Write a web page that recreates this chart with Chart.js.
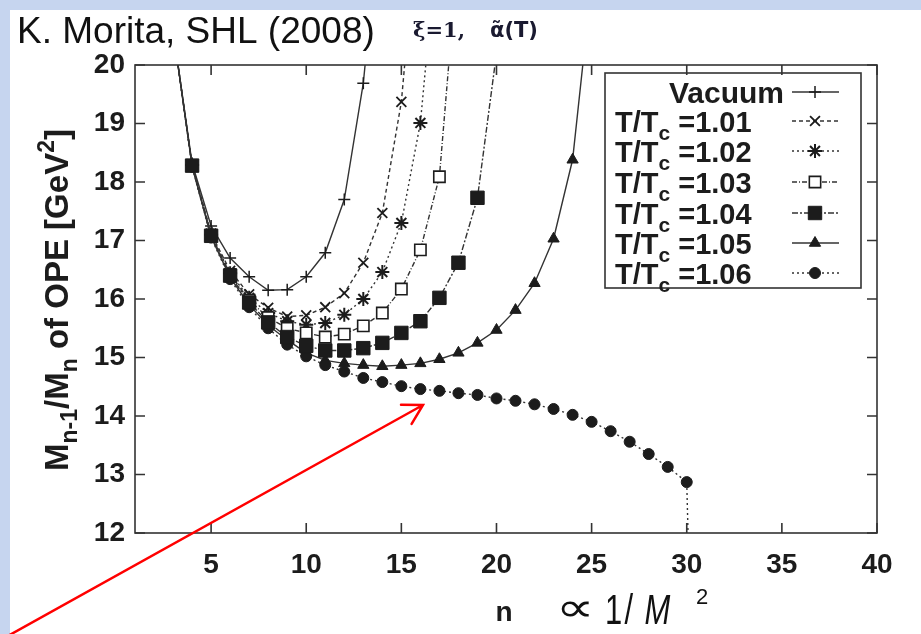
<!DOCTYPE html>
<html>
<head>
<meta charset="utf-8">
<script src="https://cdn.jsdelivr.net/npm/chart.js@4.4.1/dist/chart.umd.min.js"></script>
<style>
  html, body { margin: 0; padding: 0; background: #c6d5ef; }
  #wrap { position: relative; width: 921px; height: 634px; overflow: hidden; }
  #paper { position: absolute; left: 10px; top: 10px; right: 0; bottom: 0; background: #fff; }
  #box { position: absolute; left: 0; top: 0; width: 921px; height: 634px; }
</style>
</head>
<body>
<div id="wrap">
  <div id="paper"></div>
  <div id="box"><canvas id="chart"></canvas></div>
</div>
<script>
// n values (every series starts at n = 3)
const nValues = [3,4,5,6,7,8,9,10,11,12,13,14,15,16,17,18,19,20,21,22,23,24,25,26,27,28,29,30,31];

// M_{n-1}/M_n of OPE [GeV^2]
const vacuum = [20.6,18.32,17.25,16.7,16.38,16.15,16.16,16.38,16.79,17.7,19.69,23.0];
const t101 = [20.6,18.3,17.12,16.48,16.08,15.85,15.7,15.72,15.86,16.1,16.62,17.47,19.37,23.0];
const t102 = [20.6,18.29,17.1,16.44,16.02,15.76,15.62,15.56,15.59,15.73,16.0,16.46,17.3,19.01,22.5];
const t103 = [20.6,18.28,17.09,16.42,15.98,15.68,15.5,15.42,15.35,15.4,15.54,15.76,16.17,16.84,18.09,22.0];
const t104 = [20.6,18.28,17.08,16.4,15.94,15.6,15.35,15.2,15.12,15.12,15.16,15.25,15.42,15.62,16.02,16.62,17.73,20.2];
const t105 = [20.6,18.27,17.06,16.37,15.9,15.55,15.3,15.08,14.95,14.9,14.87,14.85,14.87,14.9,14.97,15.08,15.25,15.47,15.81,16.27,17.03,18.38,21.4];
const t106 = [20.6,18.26,17.05,16.34,15.86,15.5,15.22,15.02,14.87,14.76,14.65,14.58,14.51,14.46,14.43,14.39,14.36,14.3,14.26,14.2,14.12,14.02,13.9,13.74,13.56,13.35,13.13,12.87,0];

const xTicks = [5,10,15,20,25,30,35,40];
const yTicks = [12,13,14,15,16,17,18,19,20];
const tempLabels = ['1.01','1.02','1.03','1.04','1.05','1.06'];

const toPts = vals => vals.map((v, i) => ({ x: nValues[i], y: v }));
const ink = '#1c1c1c';
const lineGray = '#333';
const sans = '"Liberation Sans", Arial, sans-serif';

function series(label, vals, style, radius, fill, dash, bw, pbw, order) {
  return {
    label: label, data: toPts(vals), order: order,
    borderColor: lineGray, borderWidth: bw, borderDash: dash,
    pointStyle: style, pointRadius: radius, pointHoverRadius: radius,
    pointBorderWidth: pbw, pointBorderColor: ink, pointBackgroundColor: fill,
    tension: 0, fill: false
  };
}

const datasets = [
  series('Vacuum', vacuum, 'cross', 6, ink, [], 1.4, 1.5, 6),
  series('T/Tc=1.01', t101, 'crossRot', 7, ink, [4,3], 1.4, 1.8, 5),
  series('T/Tc=1.02', t102, 'star', 7, ink, [2,3], 1.4, 2, 4),
  series('T/Tc=1.03', t103, 'rect', 8, '#fff', [5,2,1,2], 1.4, 1.6, 3),
  series('T/Tc=1.04', t104, 'rect', 9.5, ink, [6,2,2,2], 1.4, 1, 0),
  series('T/Tc=1.05', t105, 'triangle', 6.5, ink, [], 1.4, 1, 2),
  series('T/Tc=1.06', t106, 'circle', 5.5, ink, [2,3], 1.4, 1, 1)
];

function richText(ctx, parts, x, y, align) {
  let w = 0;
  parts.forEach(p => { ctx.font = p.font; w += ctx.measureText(p.t).width; });
  let cx = align === 'center' ? x - w / 2 : (align === 'right' ? x - w : x);
  parts.forEach(p => {
    ctx.font = p.font;
    ctx.fillText(p.t, cx, y + (p.dy || 0));
    cx += ctx.measureText(p.t).width;
  });
  return w;
}

// gnuplot style frame with inward ticks on all four sides
const framePlugin = {
  id: 'frame',
  afterDatasetsDraw(chart) {
    const { ctx, chartArea: a, scales: { x, y } } = chart;
    ctx.save();
    ctx.strokeStyle = '#333';
    ctx.lineWidth = 1.6;
    ctx.strokeRect(a.left, a.top, a.right - a.left, a.bottom - a.top);
    ctx.beginPath();
    x.ticks.forEach(t => {
      const px = x.getPixelForValue(t.value);
      ctx.moveTo(px, a.bottom); ctx.lineTo(px, a.bottom - 10);
      ctx.moveTo(px, a.top); ctx.lineTo(px, a.top + 10);
    });
    y.ticks.forEach(t => {
      const py = y.getPixelForValue(t.value);
      ctx.moveTo(a.left, py); ctx.lineTo(a.left + 10, py);
      ctx.moveTo(a.right, py); ctx.lineTo(a.right - 10, py);
    });
    ctx.stroke();
    ctx.restore();
  }
};

const legendPlugin = {
  id: 'gpLegend',
  afterDraw(chart) {
    const ctx = chart.ctx;
    const rowY = [92, 121, 151, 182, 213, 243, 273];
    const big = 'bold 29px ' + sans;
    ctx.save();
    ctx.strokeStyle = '#333';
    ctx.lineWidth = 1.6;
    ctx.strokeRect(605, 73, 256, 215);
    ctx.textBaseline = 'alphabetic';
    chart.data.datasets.forEach((ds, i) => {
      const y = rowY[i];
      ctx.fillStyle = ink;
      if (i === 0) {
        ctx.font = 'bold 30px ' + sans;
        ctx.textAlign = 'right';
        ctx.fillText('Vacuum', 784, y + 11);
        ctx.textAlign = 'left';
      } else {
        richText(ctx, [
          { t: 'T/T', font: big },
          { t: 'c', font: 'bold 21px ' + sans, dy: 8 },
          { t: ' =' + tempLabels[i - 1], font: big }
        ], 615, y + 11, 'left');
      }
      ctx.strokeStyle = lineGray;
      ctx.lineWidth = 1.4;
      ctx.setLineDash(ds.borderDash || []);
      ctx.beginPath(); ctx.moveTo(792, y); ctx.lineTo(839, y); ctx.stroke();
      ctx.setLineDash([]);
      ctx.fillStyle = ds.pointBackgroundColor;
      ctx.strokeStyle = ds.pointBorderColor;
      ctx.lineWidth = ds.pointBorderWidth;
      Chart.helpers.drawPoint(ctx, { pointStyle: ds.pointStyle, rotation: 0, radius: ds.pointRadius, borderWidth: ds.pointBorderWidth }, 815, y);
    });
    ctx.restore();
  }
};

const textPlugin = {
  id: 'texts',
  afterDraw(chart) {
    const ctx = chart.ctx;
    ctx.save();
    ctx.fillStyle = '#111';
    ctx.textAlign = 'left';
    ctx.textBaseline = 'alphabetic';
    ctx.font = '37px ' + sans;
    ctx.fillText('K. Morita, SHL (2008)', 17, 43);
    ctx.fillStyle = '#1a1a30';
    ctx.font = 'bold 21px "DejaVu Serif", serif';
    ctx.fillText('\u03BE=1,', 413, 37);
    ctx.font = 'bold 21px "DejaVu Sans", sans-serif';
    ctx.fillText('\u03B1\u0303(T)', 490, 37);

    // y axis title
    ctx.fillStyle = ink;
    ctx.save();
    ctx.translate(68, 300);
    ctx.rotate(-Math.PI / 2);
    const big = 'bold 33px ' + sans;
    const small = 'bold 23px ' + sans;
    richText(ctx, [
      { t: 'M', font: big },
      { t: 'n-1', font: small, dy: 9 },
      { t: '/M', font: big },
      { t: 'n', font: small, dy: 9 },
      { t: ' of OPE [GeV', font: big },
      { t: '2', font: small, dy: -14 },
      { t: ']', font: big }
    ], 0, 0, 'center');
    ctx.restore();

    // x axis title
    ctx.textAlign = 'center';
    ctx.font = 'bold 28px ' + sans;
    ctx.fillText('n', 504, 621);
    ctx.textAlign = 'left';
    ctx.fillStyle = '#111';
    ctx.save();
    ctx.translate(556, 621);
    ctx.scale(1.35, 1);
    ctx.font = '40px "DejaVu Sans", sans-serif';
    ctx.fillText('\u221D', 0, 0);
    ctx.restore();
    ctx.save();
    ctx.translate(605, 624);
    ctx.scale(0.72, 1);
    ctx.font = '43px ' + sans;
    ctx.fillText('1', 0, 0);
    ctx.fillText('/', 27, 0);
    ctx.font = 'italic 43px ' + sans;
    ctx.fillText('M', 55, 0);
    ctx.restore();
    ctx.font = '22px ' + sans;
    ctx.fillText('2', 696, 604);

    // red arrow
    const x0 = 6, y0 = 637, x1 = 423, y1 = 405;
    const ang = Math.atan2(y1 - y0, x1 - x0);
    ctx.strokeStyle = '#ff0000';
    ctx.lineWidth = 2.5;
    ctx.lineCap = 'round';
    ctx.beginPath();
    ctx.moveTo(x0, y0); ctx.lineTo(x1, y1);
    ctx.moveTo(x1 - 22 * Math.cos(ang - 0.52), y1 - 22 * Math.sin(ang - 0.52));
    ctx.lineTo(x1, y1);
    ctx.lineTo(x1 - 22 * Math.cos(ang + 0.52), y1 - 22 * Math.sin(ang + 0.52));
    ctx.stroke();
    ctx.restore();
  }
};

const tickFont = { family: sans, size: 28, weight: 'bold' };

new Chart(document.getElementById('chart').getContext('2d'), {
  type: 'line',
  data: { datasets: datasets },
  options: {
    responsive: true,
    maintainAspectRatio: false,
    animation: false,
    layout: { padding: { left: 0, top: 65, right: 44, bottom: 0 } },
    plugins: { legend: { display: false }, tooltip: { enabled: false } },
    scales: {
      x: {
        type: 'linear', min: 1, max: 40,
        afterBuildTicks: s => { s.ticks = xTicks.map(v => ({ value: v })); },
        afterFit: s => { s.height = 101; },
        grid: { display: false, drawTicks: false },
        border: { display: false },
        ticks: { padding: 15, color: ink, font: tickFont, maxRotation: 0, autoSkip: false }
      },
      y: {
        type: 'linear', min: 12, max: 20,
        afterBuildTicks: s => { s.ticks = yTicks.map(v => ({ value: v })); },
        afterFit: s => { s.width = 135; },
        grid: { display: false, drawTicks: false },
        border: { display: false },
        ticks: { padding: 10, color: ink, font: tickFont, autoSkip: false }
      }
    }
  },
  plugins: [framePlugin, legendPlugin, textPlugin]
});
</script>
</body>
</html>
